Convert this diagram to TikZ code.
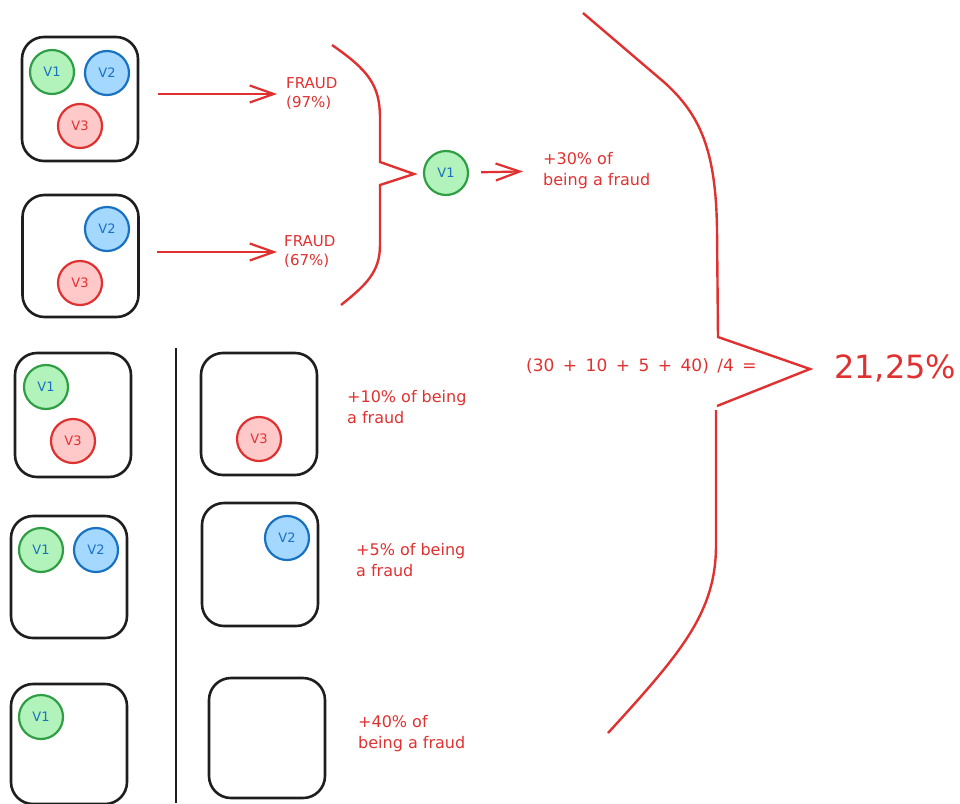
\documentclass[tikz,border=0pt]{standalone}
\usepackage{fontspec}
\setmainfont{DejaVu Sans}
\usetikzlibrary{arrows.meta}
\definecolor{exred}{HTML}{E03131}
\definecolor{exblue}{HTML}{1971C2}
\definecolor{exbluefill}{HTML}{A5D8FF}
\definecolor{exgreen}{HTML}{2F9E44}
\definecolor{exgreenfill}{HTML}{B2F2BB}
\definecolor{exredfill}{HTML}{FFC9C9}
\definecolor{exink}{HTML}{1E1E1E}
\begin{document}
\begin{tikzpicture}[x=1pt,y=-1pt,
  case/.style={draw=exink, line width=2.6pt, rounded corners=22pt,
    minimum width=116pt, minimum height=122pt, inner sep=0pt},
  var/.style={circle, line width=2.2pt, minimum size=44pt, inner sep=0pt,
    font=\fontsize{13}{13}\selectfont},
  vg/.style={var, draw=exgreen, fill=exgreenfill, text=exblue},
  vb/.style={var, draw=exblue, fill=exbluefill, text=exblue},
  vr/.style={var, draw=exred, fill=exredfill, text=exred},
  note/.style={text=exred, anchor=west, align=left, inner sep=0pt,
    font=\fontsize{16}{21}\selectfont},
  tag/.style={note, font=\fontsize{15}{19}\selectfont},
  arr/.style={draw=exred, line width=2.2pt,
    -{Straight Barb[length=24pt,width=17pt,line width=2.2pt]}},
  brace/.style={draw=exred, line width=2.4pt, line join=miter},
  rule/.style={draw=exink, line width=2.8pt}]
\useasboundingbox (0,0) rectangle (960,803);

% ---- top: two cases that are flagged as fraud ----
\node[case, minimum height=124pt] (b1) at (80,99) {};
\node[vg] (b1v1) at (52,72) {V1};
\node[vb] (b1v2) at (107,73) {V2};
\node[vr] (b1v3) at (80,126) {V3};

\node[case] (b2) at (80.5,256) {};
\node[vb] (b2v2) at (107,229) {V2};
\node[vr] (b2v3) at (80,283) {V3};

\node[tag] (f1) at (286,94) {FRAUD\\(97\%)};
\node[tag] (f2) at (284,252) {FRAUD\\(67\%)};

\draw[arr, shorten <=19pt, shorten >=9pt] (b1.east |- f1.west) -- (f1.west);
\draw[arr, shorten <=17pt, shorten >=7pt] (b2.east |- f2.west) -- (f2.west);

% small brace gathering both results
\draw[brace] (332,45) .. controls (368,70) and (380,85) .. (380,118)
  -- (380,162) -- (414,174) -- (380,185) -- (380,245)
  .. controls (380,272) and (366,285) .. (341,305);

\node[vg] (m1) at (446,173) {V1};
\node[note] (t30) at (543,171) {+30\% of\\being a fraud};
\draw[arr, shorten <=12pt, shorten >=20pt] (m1) -- (t30.west);

% ---- bottom: case pairs with and without one variable ----
\draw[rule] (176,348) -- (176,803);

\node[case, minimum height=124pt] (b3) at (73,415) {};
\node[vg] (b3v1) at (46,387) {V1};
\node[vr] (b3v3) at (73,441) {V3};

\node[case] (b4) at (259,414) {};
\node[vr] (b4v3) at (259,439) {V3};
\node[note] (t10) at (347,407) {+10\% of being\\a fraud};

\node[case] (b5) at (69,577) {};
\node[vg] (b5v1) at (41,550) {V1};
\node[vb] (b5v2) at (96,550) {V2};

\node[case, minimum height=123pt] (b6) at (260,564.5) {};
\node[vb] (b6v2) at (287,538) {V2};
\node[note] (t5) at (356,560) {+5\% of being\\a fraud};

\node[case, minimum height=120pt] (b7) at (69,744) {};
\node[vg] (b7v1) at (41,717) {V1};

\node[case, minimum height=120pt] (b8) at (267,738) {};
\node[note] (t40) at (358,734) {+40\% of\\being a fraud};

% ---- large brace and the average ----
\draw[brace] (583,13) -- (665,83) .. controls (700,115) and (716,150) .. (717,230)
  -- (718,337) -- (810,369) -- (717,406);
\draw[brace] (716,410) -- (716,545)
  .. controls (716,612) and (682,652) .. (608,733);

\node[note, font=\fontsize{17}{20}\selectfont] (avg) at (526,366)
  {\spaceskip=0.5em (30 + 10 + 5 + 40) /4 =};
\node[note, font=\fontsize{32}{36}\selectfont] (res) at (834,368) {21,25\%};
\end{tikzpicture}
\end{document}
